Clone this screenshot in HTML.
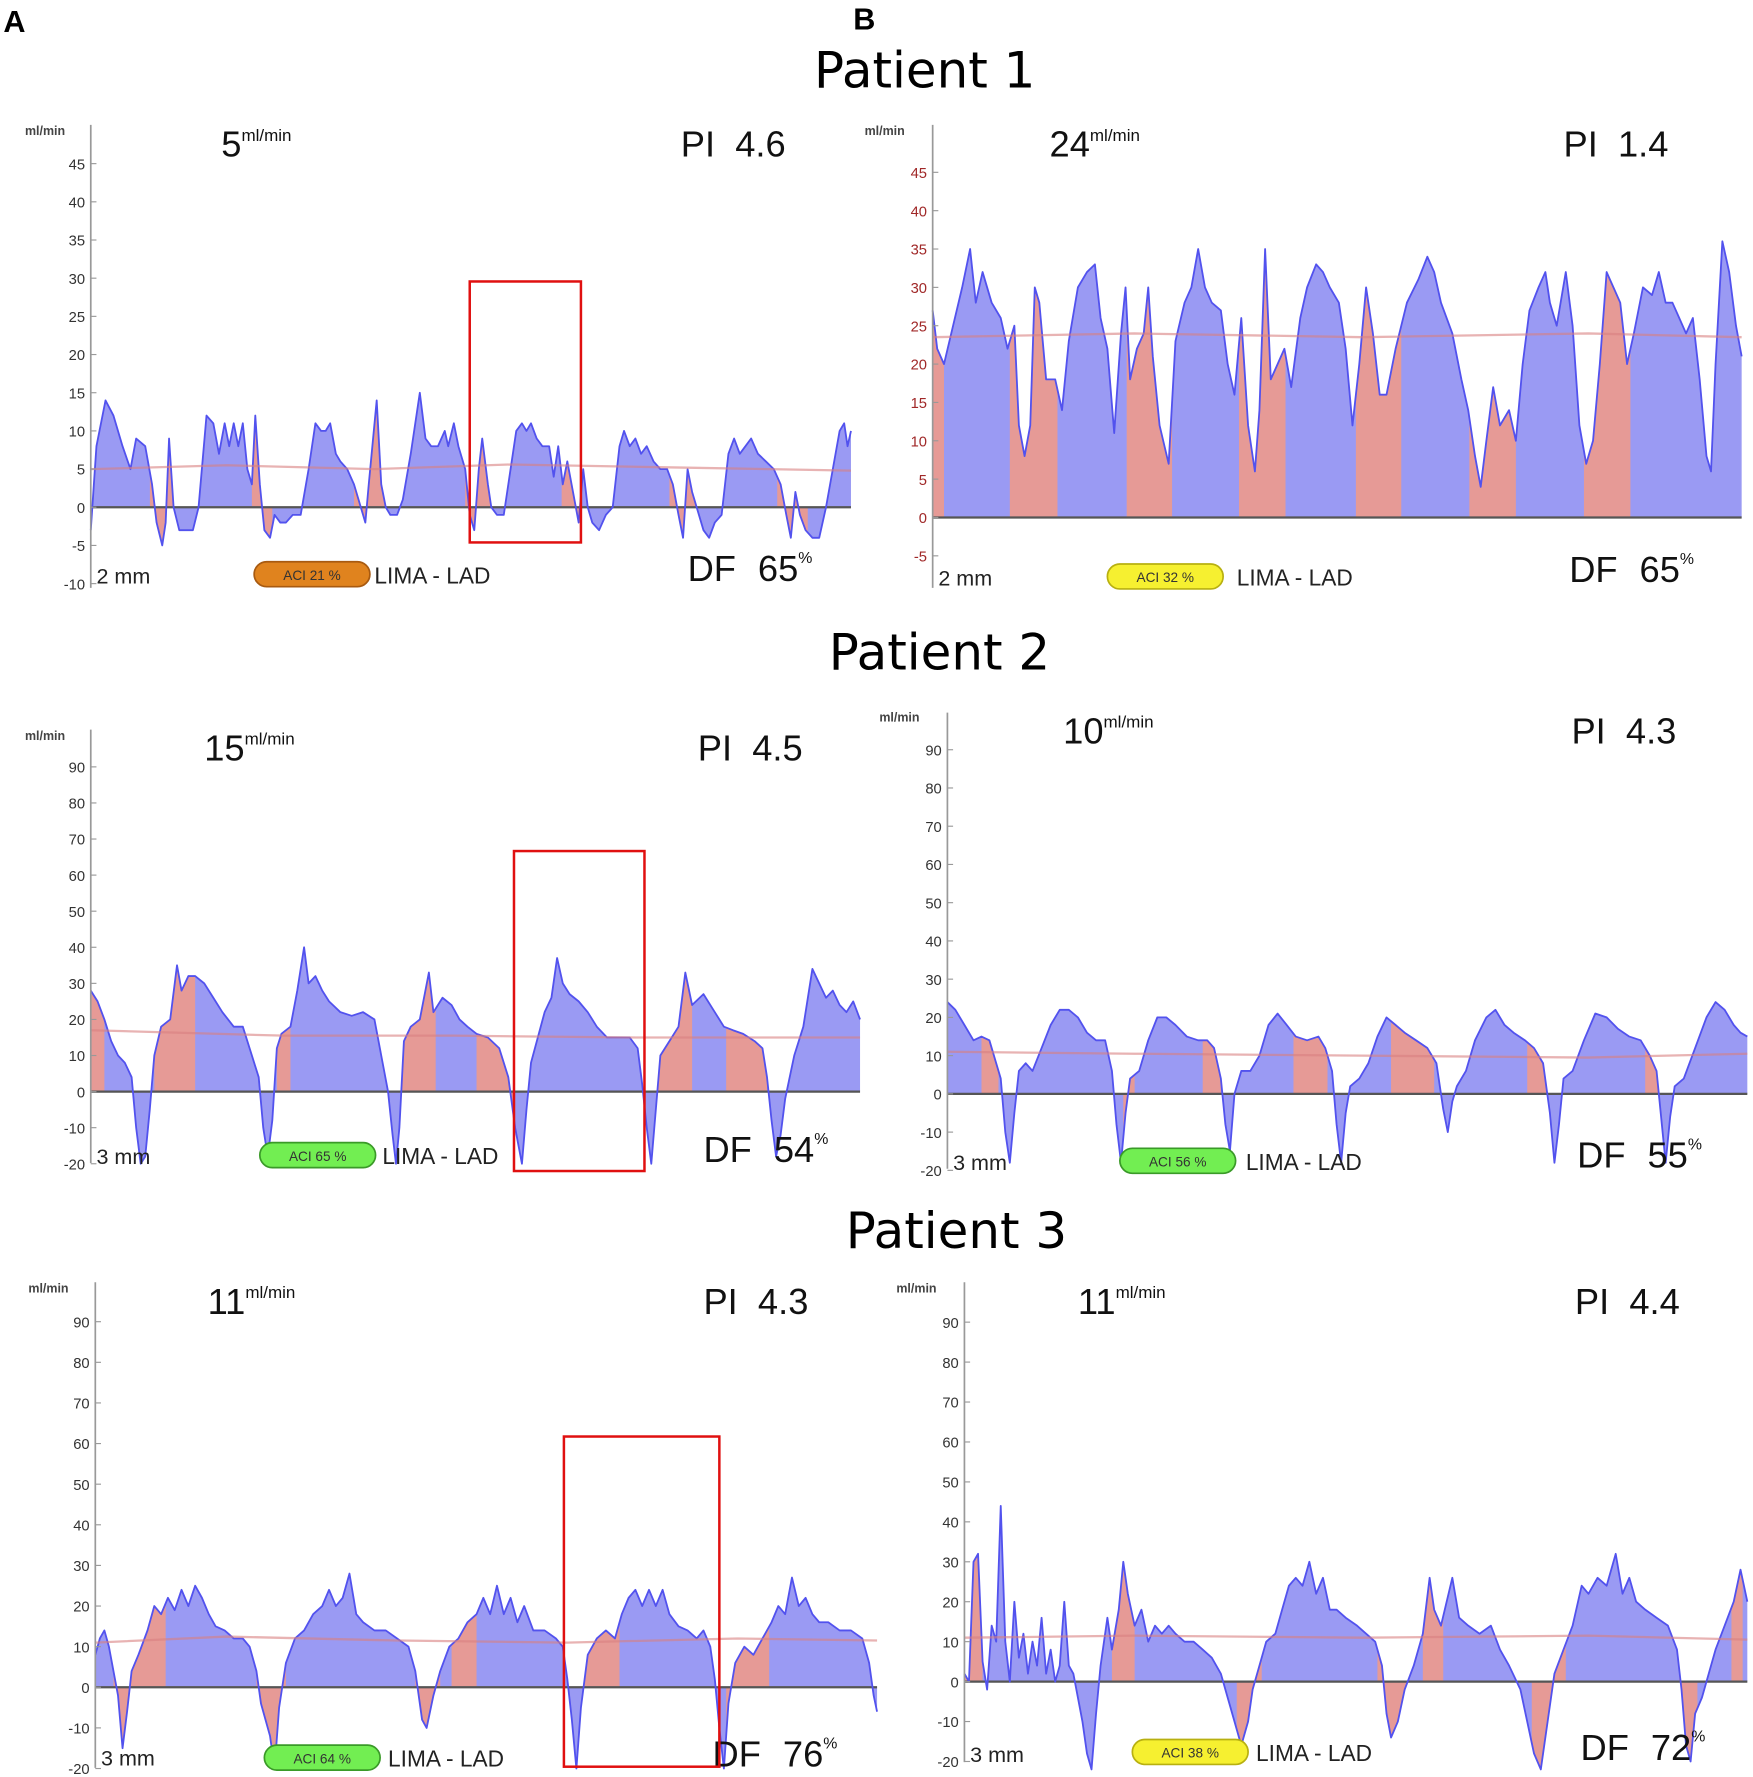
<!DOCTYPE html>
<html><head><meta charset="utf-8"><style>
html,body{margin:0;padding:0;background:#fff;}
svg{display:block;font-family:"Liberation Sans",Arial,sans-serif;}
</style></head><body>
<svg id="fig" width="1753" height="1777" viewBox="0 0 1545 1566" xmlns="http://www.w3.org/2000/svg">
<defs id="defs"></defs>
<text x="3" y="28" font-size="27" font-weight="bold">A</text>
<text x="752" y="26" font-size="27" font-weight="bold">B</text>
<text x="815" y="77" font-size="44" text-anchor="middle" font-family="'DejaVu Sans',sans-serif">Patient 1</text>
<text x="828" y="590" font-size="44" text-anchor="middle" font-family="'DejaVu Sans',sans-serif">Patient 2</text>
<text x="843" y="1100" font-size="44" text-anchor="middle" font-family="'DejaVu Sans',sans-serif">Patient 3</text>
</svg>
<script>
// ---- data (time units, flow ml/min) ----
const a1Ticks=[45,40,35,30,25,20,15,10,5,0,-5,-10];
const p2Ticks=[90,80,70,60,50,40,30,20,10,0,-10,-20];
const b1Ticks=[45,40,35,30,25,20,15,10,5,0,-5];
const a1Flow=[[80,-3],[85,8],[93,14],[100,12],[108,8],[115,5],[120,9],[128,8],[134,3],[138,-2],[143,-5],[146,-2],[149,9],[153,0],[158,-3],[165,-3],[170,-3],[175,0],[182,12],[188,11],[193,7],[198,11],[202,8],[206,11],[210,8],[214,11],[218,5],[222,3],[225,12],[229,3],[233,-3],[238,-4],[242,-1],[247,-2],[252,-2],[258,-1],[265,-1],[272,5],[278,11],[283,10],[287,10],[291,11],[296,7],[300,6],[306,5],[312,3],[318,0],[322,-2],[325,3],[332,14],[336,3],[340,0],[344,-1],[350,-1],[355,1],[362,7],[370,15],[375,9],[380,8],[386,8],[392,10],[395,8],[400,11],[404,8],[410,5],[414,-1],[418,-3],[422,5],[425,9],[430,3],[433,0],[438,-1],[444,-1],[448,3],[455,10],[460,11],[464,10],[468,11],[473,9],[478,8],[484,8],[488,4],[492,8],[496,3],[500,6],[505,2],[510,-2],[514,5],[518,0],[522,-2],[528,-3],[534,-1],[540,0],[546,8],[550,10],[555,8],[560,9],[565,7],[570,8],[576,6],[582,5],[588,5],[593,3],[598,-1],[602,-4],[606,5],[610,2],[614,0],[620,-3],[625,-4],[630,-2],[636,-1],[642,7],[647,9],[652,7],[657,8],[662,9],[668,7],[675,6],[682,5],[688,3],[693,-1],[697,-4],[701,2],[705,-1],[710,-3],[716,-4],[722,-4],[728,0],[734,5],[740,10],[744,11],[747,8],[750,10]];
const a1Red=[[132,153],[222,240],[312,340],[410,435],[495,512],[590,615],[685,712]];
const a1Mean=[[80,5],[200,5.5],[330,5],[450,5.6],[600,5.2],[750,4.8]];

const b1Flow=[[822,27],[826,22],[832,20],[840,25],[848,30],[855,35],[860,28],[866,32],[874,28],[882,26],[888,22],[894,25],[898,12],[903,8],[908,12],[912,30],[916,28],[922,18],[930,18],[936,14],[942,23],[950,30],[958,32],[965,33],[970,26],[976,22],[982,11],[988,24],[992,30],[996,18],[1002,22],[1008,24],[1012,30],[1016,21],[1022,12],[1030,7],[1036,23],[1044,28],[1050,30],[1056,35],[1062,30],[1068,28],[1076,27],[1082,20],[1088,16],[1094,26],[1100,12],[1106,6],[1110,14],[1115,35],[1120,18],[1126,20],[1132,22],[1138,17],[1146,26],[1152,30],[1160,33],[1166,32],[1172,30],[1180,28],[1186,22],[1192,12],[1198,20],[1204,30],[1210,24],[1216,16],[1222,16],[1230,22],[1240,28],[1250,31],[1258,34],[1264,32],[1270,28],[1280,24],[1288,18],[1294,14],[1300,8],[1305,4],[1310,10],[1316,17],[1322,12],[1330,14],[1336,10],[1342,20],[1348,27],[1356,30],[1362,32],[1366,28],[1372,25],[1380,32],[1386,25],[1392,12],[1398,7],[1404,10],[1410,20],[1416,32],[1422,30],[1428,28],[1434,20],[1440,24],[1448,30],[1456,29],[1462,32],[1468,28],[1474,28],[1480,26],[1486,24],[1492,26],[1498,18],[1504,8],[1508,6],[1512,20],[1518,36],[1524,32],[1530,25],[1535,21]];
const b1Red=[[822,832],[890,932],[993,1033],[1092,1133],[1195,1235],[1295,1336],[1396,1437]];
const b1Mean=[[822,23.5],[1000,24],[1200,23.5],[1400,24],[1535,23.5]];

const a2Flow=[[80,28],[86,25],[92,20],[98,14],[104,10],[110,8],[116,4],[120,-10],[124,-20],[128,-18],[132,-5],[136,10],[142,18],[150,20],[156,35],[160,28],[166,32],[172,32],[180,30],[188,26],[196,22],[206,18],[214,18],[222,10],[228,4],[232,-10],[236,-18],[240,-8],[244,12],[248,16],[256,18],[262,28],[268,40],[272,30],[278,32],[284,28],[290,25],[300,22],[310,21],[320,22],[330,20],[336,10],[342,0],[346,-12],[349,-20],[352,-10],[356,14],[362,18],[370,20],[378,33],[382,22],[390,26],[398,24],[405,20],[412,18],[420,16],[430,15],[440,12],[448,4],[454,-10],[460,-20],[464,-5],[468,8],[474,15],[480,22],[486,26],[491,37],[496,30],[502,27],[510,25],[518,22],[526,18],[535,15],[545,15],[555,15],[562,12],[566,2],[570,-10],[574,-20],[578,-5],[582,10],[590,14],[598,18],[604,33],[610,24],[620,27],[630,22],[638,18],[646,17],[655,16],[665,14],[672,12],[676,4],[680,-8],[684,-18],[688,-12],[692,-2],[700,10],[708,18],[716,34],[722,30],[728,26],[734,28],[740,24],[746,22],[752,25],[758,20]];
const a2Red=[[80,92],[136,172],[244,256],[354,384],[420,452],[580,610],[640,676]];
const a2Mean=[[80,17],[250,15.5],[400,15.5],[560,15],[758,15]];

const b2Flow=[[835,24],[842,22],[850,18],[858,14],[865,15],[872,14],[878,8],[882,4],[886,-10],[890,-18],[894,-5],[898,6],[904,8],[910,6],[918,12],[926,18],[934,22],[942,22],[950,20],[958,16],[966,14],[974,14],[980,6],[984,-8],[988,-18],[992,-5],[996,4],[1004,6],[1012,14],[1020,20],[1028,20],[1036,18],[1046,15],[1056,14],[1064,14],[1070,12],[1076,4],[1080,-8],[1084,-15],[1088,0],[1094,6],[1102,6],[1110,10],[1118,18],[1126,21],[1134,18],[1142,15],[1152,14],[1162,15],[1168,12],[1174,6],[1178,-8],[1182,-18],[1186,-5],[1190,2],[1198,4],[1206,8],[1214,15],[1222,20],[1230,18],[1238,16],[1248,14],[1258,12],[1266,8],[1272,-4],[1276,-10],[1280,-2],[1284,2],[1292,6],[1300,14],[1310,20],[1318,22],[1326,18],[1334,16],[1344,14],[1352,12],[1360,8],[1366,-5],[1370,-18],[1374,-8],[1378,4],[1386,6],[1396,14],[1406,21],[1416,20],[1426,17],[1436,15],[1446,14],[1454,10],[1460,6],[1464,-6],[1468,-18],[1472,-6],[1476,2],[1484,4],[1494,12],[1504,20],[1512,24],[1520,22],[1528,18],[1534,16],[1540,15]];
const b2Red=[[865,880],[990,1000],[1060,1076],[1140,1170],[1226,1264],[1346,1364],[1450,1462]];
const b2Mean=[[835,11],[1000,10.5],[1200,10],[1400,9.5],[1540,10.5]];

const a3Flow=[[84,8],[88,12],[92,14],[96,10],[100,4],[104,-2],[108,-15],[112,-6],[116,4],[122,8],[130,14],[136,20],[142,18],[148,22],[154,19],[160,24],[166,20],[172,25],[178,22],[184,18],[190,15],[198,14],[206,12],[214,12],[220,10],[226,4],[230,-4],[234,-8],[238,-12],[242,-20],[246,-5],[252,6],[260,12],[268,14],[276,18],[284,20],[290,24],[296,20],[302,22],[308,28],[314,18],[320,16],[330,14],[340,14],[350,12],[360,10],[366,4],[372,-8],[376,-10],[382,-2],[388,4],[396,10],[404,12],[412,16],[420,18],[426,22],[432,18],[438,25],[444,18],[450,22],[456,16],[462,20],[470,14],[480,14],[490,12],[496,10],[500,2],[504,-8],[508,-20],[512,-5],[518,8],[526,12],[534,14],[542,12],[548,18],[554,22],[560,24],[566,20],[572,24],[578,20],[584,24],[590,18],[598,15],[606,14],[614,12],[620,14],[626,10],[630,2],[634,-10],[638,-20],[642,-4],[648,6],[656,10],[664,8],[672,12],[680,16],[686,20],[692,18],[698,27],[704,20],[710,22],[716,18],[722,16],[730,16],[740,14],[750,14],[760,12],[766,6],[770,-2],[773,-6]];
const a3Red=[[100,146],[226,252],[366,388],[398,420],[514,546],[640,678]];
const a3Mean=[[84,11],[200,12.5],[350,11.5],[500,11],[650,12],[773,11.5]];

const b3Flow=[[850,2],[854,0],[858,30],[862,32],[866,5],[870,-2],[874,14],[878,10],[882,44],[886,10],[890,0],[894,20],[898,6],[902,12],[906,2],[910,10],[914,4],[918,16],[922,2],[926,8],[930,0],[934,4],[938,20],[942,4],[946,2],[950,-4],[954,-10],[958,-18],[962,-22],[966,-8],[970,4],[976,16],[980,8],[986,18],[990,30],[994,22],[1000,14],[1006,18],[1012,10],[1018,14],[1024,12],[1030,14],[1036,12],[1044,10],[1052,10],[1060,8],[1068,6],[1076,2],[1082,-4],[1088,-10],[1094,-16],[1100,-10],[1104,-2],[1110,4],[1116,10],[1124,12],[1130,18],[1136,24],[1142,26],[1148,24],[1154,30],[1160,22],[1166,26],[1172,18],[1178,18],[1186,16],[1196,14],[1204,12],[1212,10],[1218,4],[1222,-8],[1226,-14],[1232,-10],[1238,-2],[1246,4],[1254,12],[1260,26],[1264,18],[1270,14],[1280,26],[1286,16],[1294,14],[1304,12],[1314,14],[1322,8],[1330,4],[1340,-2],[1346,-10],[1352,-18],[1358,-22],[1364,-10],[1370,2],[1378,8],[1386,14],[1394,24],[1400,22],[1408,26],[1416,24],[1424,32],[1430,22],[1436,26],[1442,20],[1450,18],[1460,16],[1470,14],[1478,8],[1482,-2],[1486,-16],[1490,-20],[1494,-8],[1500,-4],[1506,2],[1512,8],[1520,14],[1528,20],[1534,28],[1540,20]];
const b3Red=[[850,866],[980,1000],[1090,1112],[1214,1240],[1254,1272],[1350,1380],[1480,1496],[1526,1536]];
const b3Mean=[[850,11],[1000,11.5],[1200,11],[1400,11.5],[1540,10.5]];

// ---- panel layout ----
const panels=[
 {id:'a1',flow:a1Flow,red:a1Red,mean:a1Mean,ticks:a1Ticks,ax:80,x1:750,y0:447,ppu:6.73,top:110,bot:518,tc:'#333',
  val:'5',vx:195,vy:138,pi:'4.6',pix:600,piy:138,mm:'2 mm',mmy:514,badge:'ACI 21 %',bc:'#e0831e',bs:'#a85a10',bx:224,by:495,lx:330,df:'65',dfx:606,dfy:512,box:[414,248,512,478],ux:22,uy:119},
 {id:'b1',flow:b1Flow,red:b1Red,mean:b1Mean,ticks:b1Ticks,ax:822,x1:1535,y0:456,ppu:6.76,top:110,bot:518,tc:'#a02828',
  val:'24',vx:925,vy:138,pi:'1.4',pix:1378,piy:138,mm:'2 mm',mmy:516,badge:'ACI 32 %',bc:'#f6f030',bs:'#b8b010',bx:976,by:497,lx:1090,df:'65',dfx:1383,dfy:513,ux:762,uy:119},
 {id:'a2',flow:a2Flow,red:a2Red,mean:a2Mean,ticks:p2Ticks,ax:80,x1:758,y0:962,ppu:3.18,top:643,bot:1025,tc:'#333',
  val:'15',vx:180,vy:670,pi:'4.5',pix:615,piy:670,mm:'3 mm',mmy:1026,badge:'ACI 65 %',bc:'#72ee52',bs:'#3a9a28',bx:229,by:1007,lx:337,df:'54',dfx:620,dfy:1024,box:[453,750,568,1032],ux:22,uy:652},
 {id:'b2',flow:b2Flow,red:b2Red,mean:b2Mean,ticks:p2Ticks,ax:835,x1:1540,y0:964,ppu:3.37,top:628,bot:1030,tc:'#333',
  val:'10',vx:937,vy:655,pi:'4.3',pix:1385,piy:655,mm:'3 mm',mmy:1031,badge:'ACI 56 %',bc:'#72ee52',bs:'#3a9a28',bx:987,by:1012,lx:1098,df:'55',dfx:1390,dfy:1029,ux:775,uy:636},
 {id:'a3',flow:a3Flow,red:a3Red,mean:a3Mean,ticks:p2Ticks,ax:84,x1:773,y0:1487,ppu:3.58,top:1130,bot:1558,tc:'#333',
  val:'11',vx:183,vy:1158,pi:'4.3',pix:620,piy:1158,mm:'3 mm',mmy:1556,badge:'ACI 64 %',bc:'#72ee52',bs:'#3a9a28',bx:233,by:1538,lx:342,df:'76',dfx:628,dfy:1557,box:[497,1266,634,1557],ux:25,uy:1139},
 {id:'b3',flow:b3Flow,red:b3Red,mean:b3Mean,ticks:p2Ticks,ax:850,x1:1540,y0:1482,ppu:3.52,top:1130,bot:1553,tc:'#333',
  val:'11',vx:950,vy:1158,pi:'4.4',pix:1388,piy:1158,mm:'3 mm',mmy:1553,badge:'ACI 38 %',bc:'#f6f030',bs:'#b8b010',bx:998,by:1533,lx:1107,df:'72',dfx:1393,dfy:1551,ux:790,uy:1139}
];
const NS='http://www.w3.org/2000/svg';
const svg=document.getElementById('fig');
const defs=document.getElementById('defs');
function mk(tag,attrs,parent,txt){const e=document.createElementNS(NS,tag);for(const k in attrs)e.setAttribute(k,attrs[k]);if(txt!==undefined)e.textContent=txt;(parent||svg).appendChild(e);return e;}

panels.forEach(p=>{
  const g=mk('g',{});
  
  
  const t0=p.flow[0][0], t1=p.flow[p.flow.length-1][0];
  const xs=t=>p.ax+(t-t0)/(t1-t0)*(p.x1-p.ax);
  const ys=v=>p.y0-v*p.ppu;
  const pts=p.flow.map(d=>xs(d[0]).toFixed(1)+','+ys(d[1]).toFixed(1)).join(' ');
  const areaPts=xs(t0)+','+p.y0+' '+pts+' '+xs(t1)+','+p.y0;
  const blue=mk('polygon',{points:areaPts,fill:'#9a9af3'},g);
  
  
  const cp=mk('clipPath',{id:'clip-'+p.id},defs);
  p.red.forEach(r=>{mk('rect',{x:xs(r[0]),y:0,width:xs(r[1])-xs(r[0]),height:1566},cp);});
  const red=mk('polygon',{points:areaPts,fill:'#e69a96','clip-path':'url(#clip-'+p.id+')'},g);
  
  
  const z=mk('line',{x1:p.ax,x2:p.x1,y1:p.y0,y2:p.y0,stroke:'#555','stroke-width':2},g);
  
  
  const ln=mk('polyline',{points:pts,fill:'none',stroke:'#5252ee','stroke-width':1.6,'stroke-linejoin':'round'},g);
  
  
  const mp=p.mean.map(d=>xs(d[0]).toFixed(1)+','+ys(d[1]).toFixed(1)).join(' ');
  const ml=mk('polyline',{points:mp,fill:'none',stroke:'#d98080','stroke-opacity':0.6,'stroke-width':2},g);
  
  
  const ax=mk('line',{x1:p.ax,x2:p.ax,y1:p.top,y2:p.bot,stroke:'#999','stroke-width':1.5},g);
  
  
  p.ticks.forEach(v=>{
    const y=ys(v);
    mk('line',{x1:p.ax,x2:p.ax+5,y1:y,y2:y,stroke:'#999','stroke-width':1},g);
    const tl=mk('text',{x:p.ax-5,y:y+5,'font-size':13,'text-anchor':'end',fill:p.tc},g,String(v));
    
    
  });
  const u=mk('text',{x:p.ux,y:p.uy,'font-size':11,'font-weight':'bold',fill:'#444'},g,'ml/min');
  
  
  const vt=mk('text',{x:p.vx,y:p.vy,'font-size':32,fill:'#111'},g);
  
  
  mk('tspan',{},vt,p.val);
  mk('tspan',{'font-size':15,dy:-14},vt,'ml/min');
  const pl=mk('text',{x:p.pix,y:p.piy,'font-size':32,fill:'#111'},g,'PI');
  
  
  const pv=mk('text',{x:p.pix+48,y:p.piy,'font-size':32,fill:'#111'},g,p.pi);
  
  
  const mm=mk('text',{x:p.ax+5,y:p.mmy,'font-size':19,fill:'#222'},g,p.mm);
  
  
  const b=mk('rect',{x:p.bx,y:p.by,width:102,height:22,rx:11,fill:p.bc,stroke:p.bs,'stroke-width':1.5},g);
  
  
  const bt=mk('text',{x:p.bx+51,y:p.by+16,'font-size':12,'text-anchor':'middle',fill:'#333'},g,p.badge);
  
  
  const lt=mk('text',{x:p.lx,y:p.by+19,'font-size':20,fill:'#222'},g,'LIMA - LAD');
  
  
  const dl=mk('text',{x:p.dfx,y:p.dfy,'font-size':32,fill:'#111'},g,'DF');
  
  
  const df=mk('text',{x:p.dfx+62,y:p.dfy,'font-size':32,fill:'#111'},g);
  
  
  mk('tspan',{},df,p.df);
  mk('tspan',{'font-size':14,dy:-16},df,'%');
  if(p.box){
    const r=mk('rect',{x:p.box[0],y:p.box[1],width:p.box[2]-p.box[0],height:p.box[3]-p.box[1],fill:'none',stroke:'#e01010','stroke-width':2.2},g);
    
    
  }
});
</script>
</body></html>
